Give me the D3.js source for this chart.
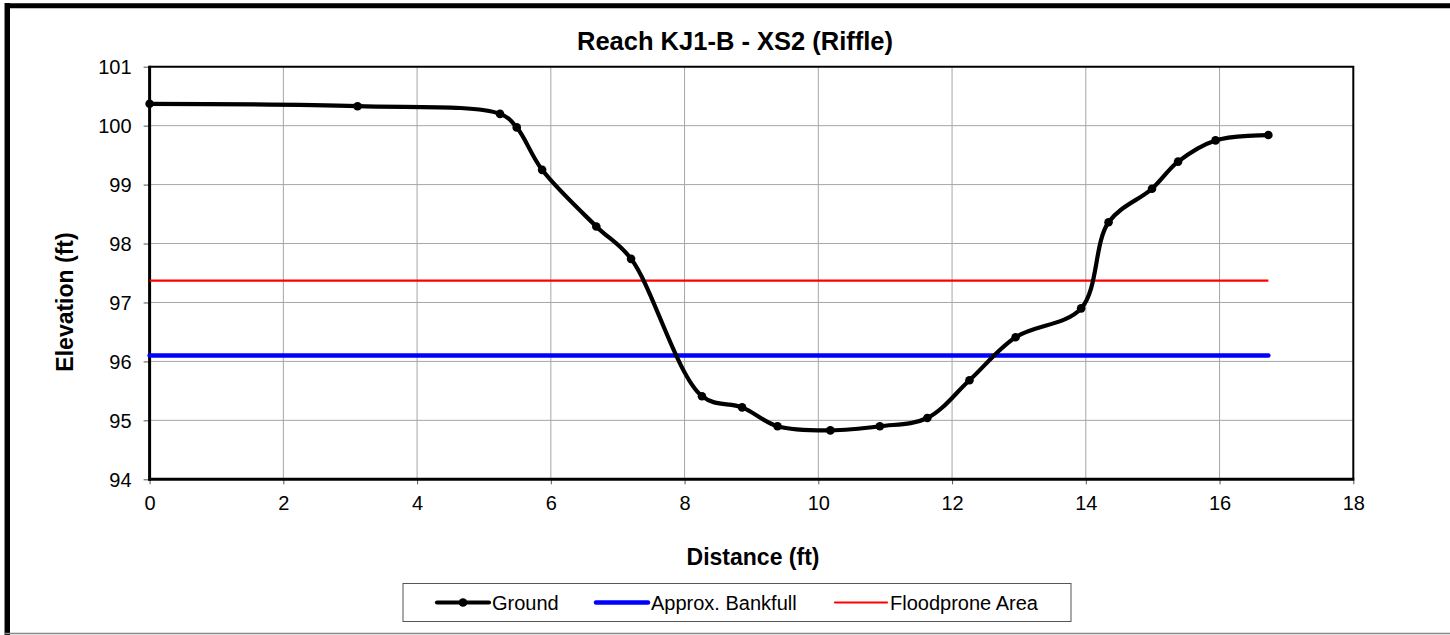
<!DOCTYPE html>
<html>
<head>
<meta charset="utf-8">
<script src="https://cdn.jsdelivr.net/npm/d3@7"></script>
<style>
  html, body { margin: 0; padding: 0; background: #fff; }
  svg { display: block; font-family: "Liberation Sans", Arial, sans-serif; }
</style>
</head>
<body>
<svg id="chart" width="1450" height="635"></svg>
<script>
// ---- data ----
const distance = [0, 3.11, 5.24, 5.49, 5.87, 6.68, 7.20, 8.26, 8.86, 9.39, 10.18, 10.92, 11.63, 12.26, 12.95, 13.93, 14.34, 14.99, 15.38, 15.94, 16.73];
const elevation = [100.37, 100.33, 100.20, 99.97, 99.25, 98.29, 97.74, 95.41, 95.22, 94.90, 94.83, 94.90, 95.04, 95.68, 96.41, 96.90, 98.36, 98.93, 99.39, 99.75, 99.84];
const bankfullStation = [0, 16.73];
const bankfullElev = [96.10, 96.10];
const floodproneStation = [0, 16.73];
const floodproneElev = [97.37, 97.37];
const xTicks = [0, 2, 4, 6, 8, 10, 12, 14, 16, 18];
const yTicks = [94, 95, 96, 97, 98, 99, 100, 101];
const seriesNames = ["Ground", "Approx. Bankfull", "Floodprone Area"];
const titleText = "Reach KJ1-B - XS2 (Riffle)";
const xTitle = "Distance (ft)";
const yTitle = "Elevation (ft)";

// ---- layout ----
const svg = d3.select("#chart");
const L = 149.6, R = 1353.3, T = 66.7, B = 479.3;
const x = d3.scaleLinear().domain([0, 18]).range([L, R]);
const y = d3.scaleLinear().domain([94, 101]).range([B, T]);
const FONT = "Liberation Sans, Arial, sans-serif";

// outer frame
svg.append("line").attr("x1", 4.5).attr("x2", 4.5).attr("y1", 3).attr("y2", 635).attr("stroke", "#888").attr("stroke-width", 1);
svg.append("line").attr("x1", 7.5).attr("x2", 7.5).attr("y1", 3).attr("y2", 635).attr("stroke", "#000").attr("stroke-width", 5);
svg.append("line").attr("x1", 5).attr("x2", 1450).attr("y1", 5.8).attr("y2", 5.8).attr("stroke", "#000").attr("stroke-width", 5);
svg.append("line").attr("x1", 5).attr("x2", 1450).attr("y1", 633.5).attr("y2", 633.5).attr("stroke", "#888").attr("stroke-width", 1.5);

// gridlines
const grid = svg.append("g");
grid.selectAll(".vg").data(xTicks.slice(1, -1)).enter().append("line")
  .attr("x1", d => x(d)).attr("x2", d => x(d)).attr("y1", T).attr("y2", B)
  .attr("stroke", "#a6a6a6").attr("stroke-width", 1);
grid.selectAll(".hg").data(yTicks.slice(1, -1)).enter().append("line")
  .attr("x1", L).attr("x2", R).attr("y1", d => y(d)).attr("y2", d => y(d))
  .attr("stroke", "#a6a6a6").attr("stroke-width", 1);

// plot border (top/right)
svg.append("path").attr("d", `M${L},${T}H${R}V${B}`).attr("fill", "none").attr("stroke", "#000").attr("stroke-width", 2);

// axes
const xAxis = d3.axisBottom(x).tickValues(xTicks).tickSize(5).tickFormat(d3.format("d"));
const yAxis = d3.axisLeft(y).tickValues(yTicks).tickSize(6).tickFormat(d3.format("d"));
const gx = svg.append("g").attr("transform", `translate(0,${B})`).call(xAxis);
const gy = svg.append("g").attr("transform", `translate(${L},0)`).call(yAxis);
[gx, gy].forEach(g => {
  g.attr("font-size", null).attr("font-family", null);
  g.select(".domain").remove();
  g.selectAll(".tick line").attr("stroke", "#555").attr("stroke-width", 1);
  g.selectAll("text").style("font-size", "20px").attr("fill", "#000").style("font-family", FONT);
});
gx.selectAll("text").attr("dy", "0").attr("y", 31);
gy.selectAll("text").attr("x", -18).attr("dy", "0.36em");
svg.append("line").attr("x1", L).attr("x2", L).attr("y1", T - 1).attr("y2", B + 1.5).attr("stroke", "#000").attr("stroke-width", 3);
svg.append("line").attr("x1", L - 1).attr("x2", R + 1).attr("y1", B).attr("y2", B).attr("stroke", "#000").attr("stroke-width", 3);

// series lines
const lineGen = d3.line().x(d => x(d[0])).y(d => y(d[1]));
const floodData = d3.zip(floodproneStation, floodproneElev);
const bankData = d3.zip(bankfullStation, bankfullElev);
const groundData = d3.zip(distance, elevation);

svg.append("path").datum(floodData).attr("d", lineGen).attr("fill", "none").attr("stroke", "#ff0000").attr("stroke-width", 2.2);
svg.append("path").datum(bankData).attr("d", lineGen).attr("fill", "none").attr("stroke", "#0000ff").attr("stroke-width", 4.5).attr("stroke-linecap", "round");
svg.append("path").datum(groundData)
  .attr("d", d3.line().x(d => x(d[0])).y(d => y(d[1])).curve(d3.curveCatmullRom.alpha(0.5)))
  .attr("fill", "none").attr("stroke", "#000").attr("stroke-width", 4.2).attr("stroke-linejoin", "round");
svg.append("g").selectAll("circle").data(groundData).enter().append("circle")
  .attr("cx", d => x(d[0])).attr("cy", d => y(d[1])).attr("r", 4.3).attr("fill", "#000");

// titles
svg.append("text").attr("x", 735).attr("y", 50).attr("text-anchor", "middle")
  .style("font-size", "25.5px").attr("font-weight", "bold").text(titleText);
svg.append("text").attr("x", 753).attr("y", 565).attr("text-anchor", "middle")
  .style("font-size", "23px").attr("font-weight", "bold").text(xTitle);
svg.append("text").attr("transform", `translate(73,302) rotate(-90)`).attr("text-anchor", "middle")
  .style("font-size", "23px").attr("font-weight", "bold").text(yTitle);

// legend
const lg = svg.append("g");
lg.append("rect").attr("x", 403).attr("y", 583.5).attr("width", 668).attr("height", 38)
  .attr("fill", "#fff").attr("stroke", "#555").attr("stroke-width", 1);
const ly = 602.5;
const legendItems = [
  { name: seriesNames[0], x1: 437, x2: 489, color: "#000", w: 4.2, marker: true },
  { name: seriesNames[1], x1: 596, x2: 648, color: "#0000ff", w: 4.5, marker: false },
  { name: seriesNames[2], x1: 835, x2: 887, color: "#ff0000", w: 2.2, marker: false }
];
legendItems.forEach(it => {
  lg.append("line").attr("x1", it.x1).attr("x2", it.x2).attr("y1", ly).attr("y2", ly)
    .attr("stroke", it.color).attr("stroke-width", it.w).attr("stroke-linecap", "round");
  if (it.marker) lg.append("circle").attr("cx", (it.x1 + it.x2) / 2).attr("cy", ly).attr("r", 4.3).attr("fill", "#000");
  lg.append("text").attr("x", it.x2 + 3).attr("y", ly).attr("dy", "0.36em").style("font-size", "20px").text(it.name);
});
</script>
</body>
</html>
